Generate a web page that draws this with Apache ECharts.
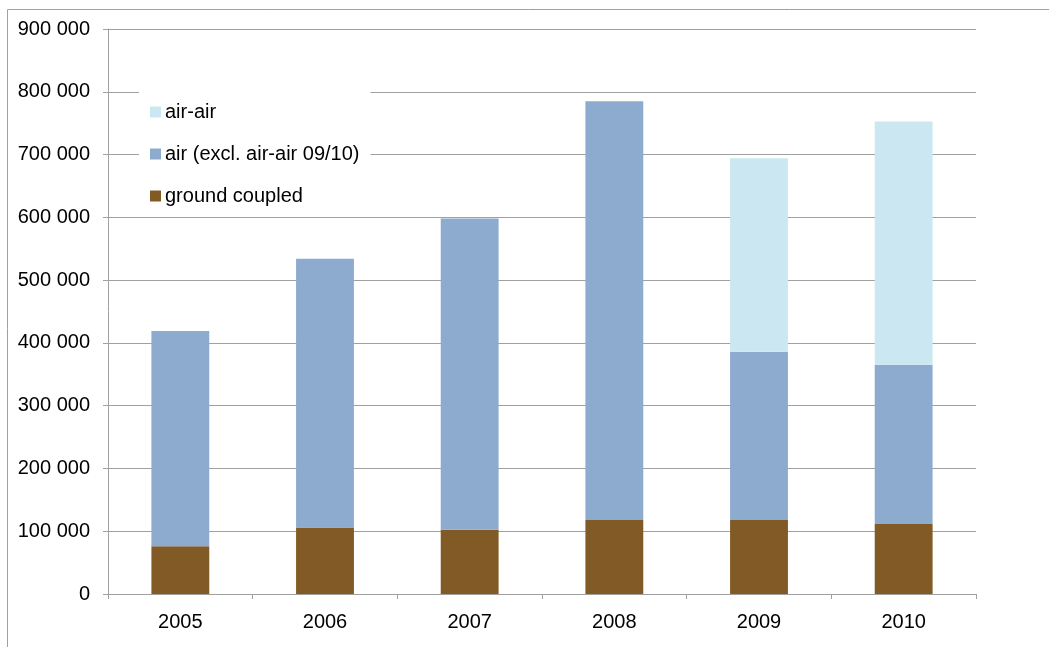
<!DOCTYPE html>
<html>
<head>
<meta charset="utf-8">
<script src="https://cdn.jsdelivr.net/npm/echarts@6/dist/echarts.min.js"></script>
<style>
html,body{margin:0;padding:0;background:#fff;}
#chart{width:1049px;height:647px;}
</style>
</head>
<body>
<div id="chart"></div>
<script>
const categories = ['2005', '2006', '2007', '2008', '2009', '2010'];
const groundCoupled = [76000, 106000, 102500, 118000, 118000, 111500];
const air = [343000, 428000, 495500, 667000, 268000, 253500];
const airAir = [null, null, null, null, 308000, 387500];
const yTicks = { min: 0, max: 900000, interval: 100000 };

const FONT = "'Liberation Sans', Arial, sans-serif";
const GRAY = '#a0a0a0';

function fmt(v) {
  return String(v).replace(/\B(?=(\d{3})+(?!\d))/g, ' ');
}

const chart = echarts.init(document.getElementById('chart'), null, { renderer: 'canvas' });
chart.setOption({
  animation: false,
  backgroundColor: '#fff',
  textStyle: { fontFamily: FONT },
  graphic: [{
    type: 'rect',
    shape: { x: 7.5, y: 9.5, width: 3000, height: 3000 },
    style: { fill: 'none', stroke: GRAY, lineWidth: 1 },
    silent: true,
    z: 0
  }],
  grid: { left: 108, right: 73, top: 29, bottom: 53, containLabel: false },
  legend: {
    orient: 'vertical',
    left: 139,
    top: 91,
    padding: [11, 11, 11, 11],
    backgroundColor: '#fff',
    itemGap: 22,
    itemWidth: 11,
    itemHeight: 11,
    icon: 'rect',
    data: ['air-air', 'air (excl. air-air 09/10)', 'ground coupled'],
    textStyle: { fontSize: 20, color: '#000', fontFamily: FONT, padding: [0, 0, 0, -1] },
    z: 10
  },
  xAxis: {
    type: 'category',
    data: categories,
    axisLine: { show: true, lineStyle: { color: GRAY, width: 1 } },
    axisTick: { show: true, alignWithLabel: false, length: 5, lineStyle: { color: GRAY } },
    axisLabel: { fontSize: 20, color: '#000', margin: 18, fontFamily: FONT },
    splitLine: { show: false }
  },
  yAxis: {
    type: 'value',
    min: yTicks.min,
    max: yTicks.max,
    interval: yTicks.interval,
    axisLine: { show: true, lineStyle: { color: GRAY, width: 1 } },
    axisTick: { show: true, length: 5, lineStyle: { color: GRAY } },
    axisLabel: { fontSize: 20, color: '#000', margin: 18, fontFamily: FONT, formatter: fmt },
    splitLine: { show: true, lineStyle: { color: GRAY, width: 1 } }
  },
  series: [
    {
      name: 'ground coupled', type: 'bar', stack: 'total', data: groundCoupled,
      barWidth: '40%', itemStyle: { color: '#825A25' }
    },
    {
      name: 'air (excl. air-air 09/10)', type: 'bar', stack: 'total', data: air,
      barWidth: '40%', itemStyle: { color: '#8DAACF' }
    },
    {
      name: 'air-air', type: 'bar', stack: 'total', data: airAir,
      barWidth: '40%', itemStyle: { color: '#CBE8F2' }
    }
  ]
});
</script>
</body>
</html>
